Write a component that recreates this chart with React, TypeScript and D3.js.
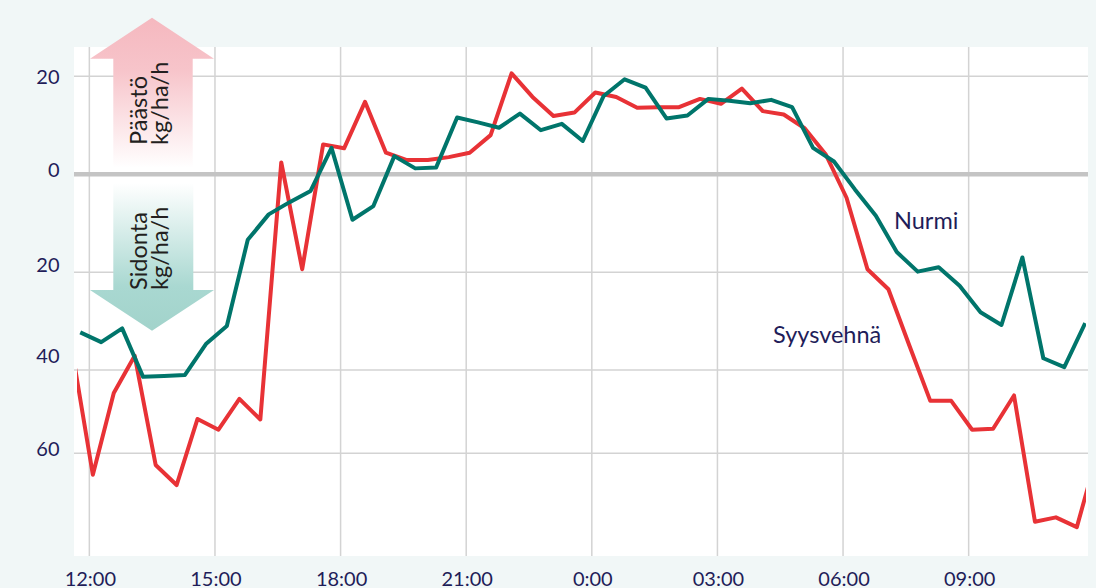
import * as d3 from 'd3'
import React, { useEffect, useRef } from 'react'

// minutes after 12:00 for the first sample of each series, 30 min between samples
const syysStart = -25;
const nurmiStart = -13;
const stepMin = 30;

// Syysvehnä (red), kg/ha/h, emission positive
const syysvehna = [
    -35.7, -61.4, -44.7, -37.1, -59.4, -63.5, -50.0, -52.2, -45.9, -50.1,
    2.4, -19.4, 6.1, 5.3, 14.8, 4.4, 2.9, 2.9, 3.5, 4.4,
    8.0, 20.6, 15.8, 11.9, 12.6, 16.7, 15.8, 13.6, 13.7, 13.7,
    15.4, 14.4, 17.5, 12.9, 12.2, 9.4, 4.1, -4.8, -19.4, -23.5,
    -35.0, -46.3, -46.3, -52.2, -52.0, -45.2, -71.0, -70.1, -72.1, -56.7
];

// Nurmi (teal)
const nurmi = [
    -32.3, -34.3, -31.5, -41.4, -41.2, -41.0, -34.7, -31.0, -13.4, -8.2,
    -5.7, -3.4, 5.4, -9.3, -6.5, 3.7, 1.2, 1.4, 11.6, 10.6,
    9.5, 12.4, 9.0, 10.3, 6.8, 16.0, 19.4, 17.7, 11.4, 12.0,
    15.4, 15.0, 14.5, 15.2, 13.7, 5.4, 2.6, -3.1, -8.5, -15.9,
    -19.9, -19.0, -22.8, -28.2, -30.8, -17.0, -37.6, -39.4, -30.4
];

const xTicks = [0, 180, 360, 540, 720, 900, 1080, 1260];
const xTickLabels = ['12:00', '15:00', '18:00', '21:00', '0:00', '03:00', '06:00', '09:00'];

const yGrid = [20, -20, -40, -57];
const yTickLabels = ['20', '0', '20', '40', '60'];
const yTickLabelAt = [20, 1, -18.4, -37.1, -56.1];

const W = 1096;
const H = 588;

const App: React.FC = () => {
    const ref = useRef<SVGSVGElement>(null);

    useEffect(() => {
        document.body.style.margin = '0';
        if (!ref.current) return;
        const svg = d3.select(ref.current);
        svg.selectAll('*').remove();

        const plot = { left: 74, right: 1088, top: 47, bottom: 556 };
        const x = d3.scaleLinear().domain([-22, 1431]).range([plot.left, plot.right]);
        const y = d3.scaleLinear().domain([26, -78]).range([plot.top, plot.bottom]);

        const navy = '#1f1d59';
        const font = 'Lato, "Open Sans", sans-serif';

        svg.append('rect').attr('width', W).attr('height', H).attr('fill', '#f1f7f7');
        svg.append('rect')
            .attr('x', plot.left).attr('y', plot.top)
            .attr('width', plot.right - plot.left).attr('height', plot.bottom - plot.top)
            .attr('fill', '#ffffff');

        const defs = svg.append('defs');
        defs.append('clipPath').attr('id', 'plotclip')
            .append('rect')
            .attr('x', plot.left + 3).attr('y', plot.top)
            .attr('width', plot.right - plot.left - 5).attr('height', plot.bottom - plot.top);

        const pink = defs.append('linearGradient').attr('id', 'pinkGrad')
            .attr('gradientUnits', 'userSpaceOnUse')
            .attr('x1', 0).attr('x2', 0).attr('y1', 17).attr('y2', 168);
        pink.append('stop').attr('offset', 0).attr('stop-color', '#f5b8bf');
        pink.append('stop').attr('offset', 0.35).attr('stop-color', '#f7c4ca');
        pink.append('stop').attr('offset', 1).attr('stop-color', '#ffffff');

        const teal = defs.append('linearGradient').attr('id', 'tealGrad')
            .attr('gradientUnits', 'userSpaceOnUse')
            .attr('x1', 0).attr('x2', 0).attr('y1', 183).attr('y2', 331);
        teal.append('stop').attr('offset', 0).attr('stop-color', '#ffffff');
        teal.append('stop').attr('offset', 0.7).attr('stop-color', '#a9d8d1');
        teal.append('stop').attr('offset', 1).attr('stop-color', '#a2d3cb');

        // grid
        const grid = svg.append('g');
        grid.selectAll('line.v')
            .data(xTicks)
            .enter()
            .append('line')
            .attr('x1', d => x(d)).attr('x2', d => x(d))
            .attr('y1', plot.top).attr('y2', plot.bottom)
            .attr('stroke', '#d3d3d3').attr('stroke-width', 1.5);
        grid.selectAll('line.h')
            .data(yGrid)
            .enter()
            .append('line')
            .attr('x1', plot.left).attr('x2', plot.right)
            .attr('y1', d => y(d)).attr('y2', d => y(d))
            .attr('stroke', '#d3d3d3').attr('stroke-width', 1.5);

        // arrows
        const cx = 152;
        svg.append('path')
            .attr('d', `M${cx - 62},58.7 L${cx},17.7 L${cx + 62},58.7 L${cx + 40.7},58.7 L${cx + 40.7},168 L${cx - 38.7},168 L${cx - 38.7},58.7 Z`)
            .attr('fill', 'url(#pinkGrad)');
        svg.append('path')
            .attr('d', `M${cx - 38.7},183 L${cx + 41.3},183 L${cx + 41.3},290 L${cx + 62},290 L${cx},330.7 L${cx - 62},290 L${cx - 38.7},290 Z`)
            .attr('fill', 'url(#tealGrad)');

        const arrowText = (tx: number, ty: number, first: string) => {
            const t = svg.append('text')
                .attr('transform', `translate(${tx},${ty}) rotate(-90)`)
                .attr('font-family', font)
                .attr('font-size', 23.5)
                .attr('fill', '#231f20');
            t.append('tspan').attr('x', 0).attr('y', 0).text(first);
            t.append('tspan').attr('x', 0).attr('dy', '0.93em').text('kg/ha/h');
        };
        arrowText(146.5, 145, 'Päästö');
        arrowText(146.5, 290, 'Sidonta');

        // zero line
        svg.append('line')
            .attr('x1', plot.left).attr('x2', plot.right)
            .attr('y1', y(0)).attr('y2', y(0))
            .attr('stroke', '#c4c4c4').attr('stroke-width', 4.5);

        // series
        const line = d3.line<[number, number]>()
            .x(d => x(d[0]))
            .y(d => y(d[1]));
        const series = [
            { values: syysvehna, start: syysStart, color: '#e83236' },
            { values: nurmi, start: nurmiStart, color: '#00756b' },
        ];
        svg.append('g')
            .attr('clip-path', 'url(#plotclip)')
            .selectAll('path')
            .data(series)
            .enter()
            .append('path')
            .attr('d', s => line(s.values.map((v, i) => [s.start + i * stepMin, v] as [number, number])))
            .attr('fill', 'none')
            .attr('stroke', s => s.color)
            .attr('stroke-width', 4)
            .attr('stroke-linejoin', 'round');

        // axis labels
        svg.append('g')
            .attr('font-family', font)
            .attr('font-size', 20)
            .attr('fill', navy)
            .attr('text-anchor', 'end')
            .selectAll('text')
            .data(yTickLabels)
            .enter()
            .append('text')
            .attr('x', 59.5)
            .attr('y', (d, i) => y(yTickLabelAt[i]))
            .attr('dy', '0.36em')
            .text(d => d);

        svg.append('g')
            .attr('font-family', font)
            .attr('font-size', 20)
            .attr('fill', navy)
            .attr('text-anchor', 'middle')
            .selectAll('text')
            .data(xTicks)
            .enter()
            .append('text')
            .attr('x', d => x(d) + 1)
            .attr('y', 586)
            .text((d, i) => xTickLabels[i]);

        // series names
        const names = svg.append('g')
            .attr('font-family', font)
            .attr('font-size', 23.5)
            .attr('fill', navy);
        names.append('text').attr('x', 894).attr('y', 229).text('Nurmi');
        names.append('text').attr('x', 773).attr('y', 343).text('Syysvehnä');
    }, []);

    return (
        <svg ref={ref} width={W} height={H}
            style={{ position: 'absolute', left: 0, top: 0, display: 'block' }} />
    );
};

export default App;
